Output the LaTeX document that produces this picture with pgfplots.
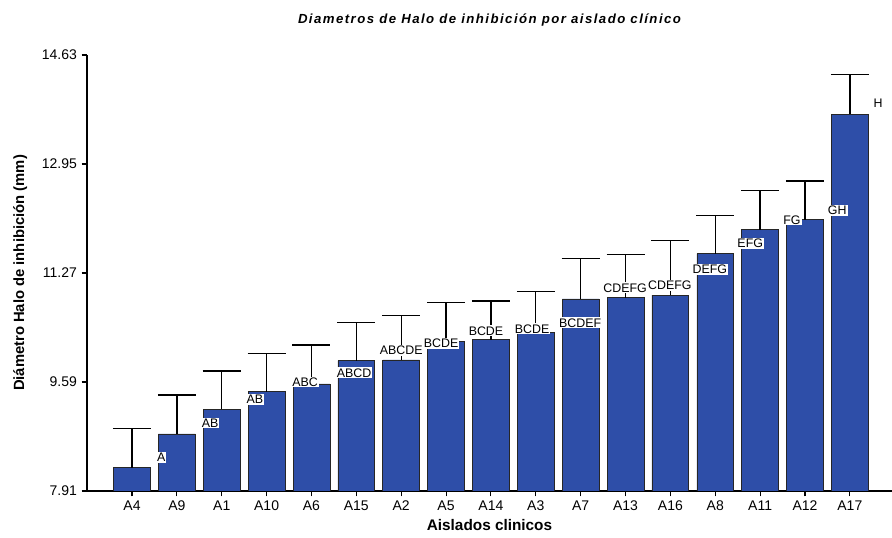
\documentclass[border=0pt]{standalone}
\usepackage{pgfplots}
\pgfplotsset{compat=1.18}
\usepackage{pgfplotstable}
\usepackage{fontspec}
\setmainfont{Liberation Sans}
\definecolor{barblue}{RGB}{46,78,168}
\tikzset{lbl/.style={fill=white, inner sep=0.8pt, font=\fontsize{9.3}{10}\selectfont}}
\pgfplotstableread{
x y top
0 8.27 8.87
1 8.79 9.39
2 9.17 9.76
3 9.44 10.03
4 9.56 10.16
5 9.92 10.51
6 9.93 10.62
7 10.21 10.82
8 10.24 10.84
9 10.35 10.98
10 10.87 11.49
11 10.89 11.55
12 10.93 11.77
13 11.57 12.16
14 11.94 12.54
15 12.09 12.69
16 13.72 14.33
}\datatable
\begin{document}
\begin{tikzpicture}
\begin{axis}[
  scale only axis, width=603.75pt, height=327pt,
  xmin=-1.003, xmax=16.94, ymin=7.91, ymax=14.63,
  axis x line*=bottom, axis y line*=left,
  axis line style={line width=0.9pt},
  xtick={0,...,16},
  xticklabels={A4,A9,A1,A10,A6,A15,A2,A5,A14,A3,A7,A13,A16,A8,A11,A12,A17},
  ytick={7.91,9.59,11.27,12.95,14.63},
  yticklabels={7.91,9.59,11.27,12.95,14.63},
  tick align=outside, major tick length=4pt,
  tick style={black, line width=0.8pt},
  ticklabel style={font=\fontsize{10.5}{12}\selectfont},
  title={Diametros de Halo de inhibición por aislado clínico},
  title style={at={(axis description cs:0.5,1.062)}, anchor=center, yshift=0pt,
    font=\addfontfeatures{LetterSpace=11}\fontsize{9.9}{11}\selectfont\bfseries\itshape},
  xlabel={Aislados clinicos},
  xlabel style={at={(axis description cs:0.5,-0.078)}, anchor=center,
    font=\fontsize{11.5}{13}\selectfont\bfseries},
  ylabel={Diámetro Halo de inhibición (mm)},
  ylabel style={at={(axis description cs:-0.083,0.5)}, anchor=center,
    font=\fontsize{11.1}{13}\selectfont\bfseries},
]
\addplot[ybar, bar width=0.82, fill=barblue, draw=black!85, line width=0.5pt,
  error bars/.cd, y dir=plus, y explicit,
  error bar style={black, line width=1pt},
  error mark options={black, line width=1pt, mark size=14.25pt, rotate=90}]
  table[x=x, y=y, y error plus expr=\thisrow{top}-\thisrow{y}] {\datatable};
\node[lbl] at (axis cs:0.65,8.43) {A};
\node[lbl] at (axis cs:1.74,8.96) {AB};
\node[lbl] at (axis cs:2.74,9.32) {AB};
\node[lbl] at (axis cs:3.86,9.59) {ABC};
\node[lbl] at (axis cs:4.95,9.73) {ABCD};
\node[lbl] at (axis cs:6.0,10.08) {ABCDE};
\node[lbl] at (axis cs:6.89,10.19) {BCDE};
\node[lbl] at (axis cs:7.89,10.38) {BCDE};
\node[lbl] at (axis cs:8.92,10.41) {BCDE};
\node[lbl] at (axis cs:9.99,10.50) {BCDEF};
\node[lbl] at (axis cs:10.99,11.04) {CDEFG};
\node[lbl] at (axis cs:11.99,11.08) {CDEFG};
\node[lbl] at (axis cs:12.88,11.33) {DEFG};
\node[lbl] at (axis cs:13.78,11.73) {EFG};
\node[lbl] at (axis cs:14.71,12.09) {FG};
\node[lbl] at (axis cs:15.72,12.23) {GH};
\node[lbl] at (axis cs:16.63,13.88) {H};
\coordinate (sw) at (rel axis cs:0,0);
\coordinate (ne) at (rel axis cs:1,1);
\end{axis}
\pgfresetboundingbox
\path (sw) ++(-65.25pt,-35.25pt) rectangle (ne);
\path (ne) ++(0,41.25pt);
\end{tikzpicture}
\end{document}
